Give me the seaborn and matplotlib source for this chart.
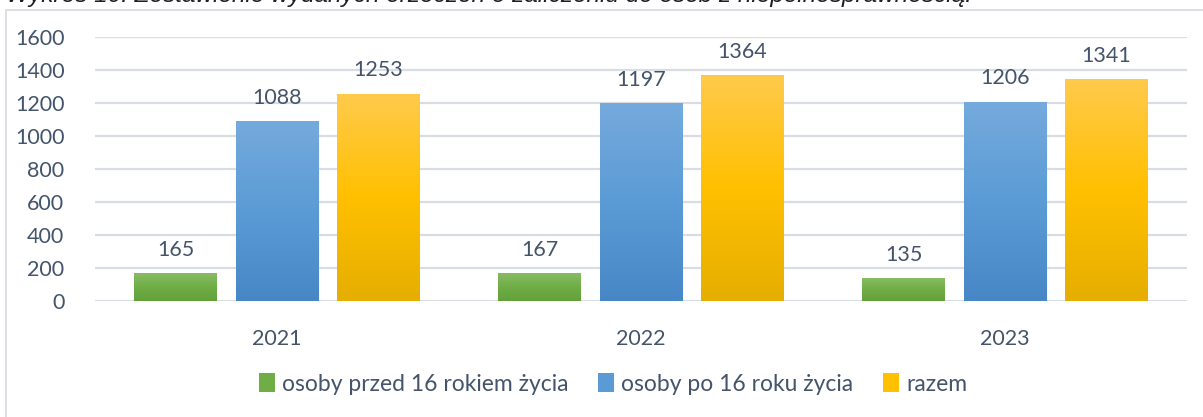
import matplotlib
import numpy as np
import pandas as pd

matplotlib.use("Agg")
import matplotlib.pyplot as plt
import seaborn as sns
from matplotlib.colors import LinearSegmentedColormap
from matplotlib.patches import Rectangle

years = ["2021", "2022", "2023"]
categories = ["osoby przed 16 rokiem życia", "osoby po 16 roku życia", "razem"]
before_16 = [165, 167, 135]
after_16 = [1088, 1197, 1206]
total = [1253, 1364, 1341]
title = "Wykres 10. Zestawienie wydanych orzeczeń o zaliczeniu do osób z niepełnosprawnością."

# top / middle / bottom of the Excel-like vertical gradient
gradients = {
    categories[0]: ["#86bc62", "#70ad47", "#62a03a"],
    categories[1]: ["#75aadd", "#5b9bd5", "#4787c6"],
    categories[2]: ["#ffca4c", "#ffc000", "#e5ae00"],
}

df = pd.DataFrame({
    "rok": years * 3,
    "kategoria": np.repeat(categories, len(years)),
    "liczba": before_16 + after_16 + total,
})

sns.set_theme(style="white")
plt.rcParams["font.family"] = ["Lato", "DejaVu Sans"]
text_color = "#44546a"
grid_color = "#d9dde3"

fig = plt.figure(figsize=(12.03, 4.17), dpi=100)
ax = fig.add_axes([95 / 1203, 1 - 301 / 417, (1187 - 95) / 1203, (301 - 37) / 417])

palette = {k: v[1] for k, v in gradients.items()}
sns.barplot(data=df, x="rok", y="liczba", hue="kategoria", hue_order=categories,
            palette=palette, width=0.834, gap=0.18, ax=ax, legend=False,
            errorbar=None, saturation=1)

ax.set_yticks(range(0, 1601, 200))
ax.yaxis.grid(True, color=grid_color, linewidth=1.6)
ax.set_axisbelow(True)
for s in ax.spines.values():
    s.set_visible(False)
ax.set_xlabel("")
ax.set_ylabel("")
ax.tick_params(axis="y", length=0, pad=22, labelsize=15.5, labelcolor=text_color)
ax.tick_params(axis="x", length=0, pad=20, labelsize=15.5, labelcolor=text_color)

# gradient fill and value labels
patches = [p for p in ax.patches if p.get_height() > 0]
for i, p in enumerate(patches):
    cat = categories[i // len(years)]
    cmap = LinearSegmentedColormap.from_list(cat, gradients[cat][::-1])
    x0, w, h = p.get_x(), p.get_width(), p.get_height()
    grad = np.linspace(0, 1, 256).reshape(-1, 1)
    ax.imshow(grad, cmap=cmap, origin="lower", aspect="auto",
              extent=(x0, x0 + w, 0, h), zorder=p.get_zorder())
    p.set_visible(False)
    ax.annotate(f"{int(h)}", (x0 + w / 2, h), xytext=(0, 10), textcoords="offset points",
                ha="center", va="bottom", fontsize=15.5, color=text_color)
ax.set_xlim(-0.5, 2.5)
ax.set_ylim(0, 1600)

handles = [Rectangle((0, 0), 1, 1, facecolor=gradients[c][1], edgecolor="none") for c in categories]
fig.legend(handles, categories, loc="center", bbox_to_anchor=(613 / 1203, 1 - 384 / 417),
           ncol=3, frameon=False, fontsize=16.5, labelcolor=text_color,
           handlelength=0.7, handleheight=0.85, handletextpad=0.3, columnspacing=1.3)

# chart area border
fig.add_artist(Rectangle((6 / 1203, -0.1), 1.2, 1 - 10 / 417 + 0.1, transform=fig.transFigure,
                         fill=False, edgecolor="#d5d9de", linewidth=1.2))

fig.text(6 / 1203, 1 - 2 / 417, title, ha="left", va="baseline", fontsize=17.6,
         style="italic", color="#1f1f1f", family=["Liberation Sans", "DejaVu Sans"])

fig.savefig("out.png", dpi=100)
